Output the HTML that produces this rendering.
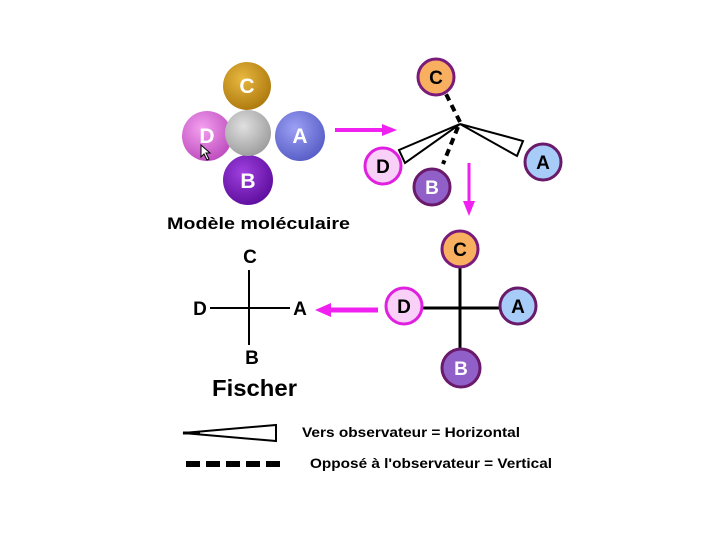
<!DOCTYPE html>
<html><head><meta charset="utf-8"><style>
html,body{margin:0;padding:0;background:#fff;}
svg{display:block;}
text{font-family:"Liberation Sans",sans-serif;font-weight:bold;}
</style></head><body>
<svg width="720" height="540" viewBox="0 0 720 540" xmlns="http://www.w3.org/2000/svg">
<defs>
<radialGradient id="gc" cx="40%" cy="35%" r="65%"><stop offset="0" stop-color="#e8b840"/><stop offset="1" stop-color="#b07c10"/></radialGradient>
<radialGradient id="gd" cx="40%" cy="35%" r="65%"><stop offset="0" stop-color="#f4a0f0"/><stop offset="1" stop-color="#c050c0"/></radialGradient>
<radialGradient id="ga" cx="40%" cy="35%" r="65%"><stop offset="0" stop-color="#9ca0f4"/><stop offset="1" stop-color="#5a60c8"/></radialGradient>
<radialGradient id="gb" cx="40%" cy="35%" r="65%"><stop offset="0" stop-color="#a040e0"/><stop offset="1" stop-color="#6010a0"/></radialGradient>
<radialGradient id="gg" cx="40%" cy="35%" r="65%"><stop offset="0" stop-color="#e0e0e0"/><stop offset="1" stop-color="#a0a0a0"/></radialGradient>
</defs>
<circle cx="247" cy="86" r="24" fill="url(#gc)"/>
<circle cx="248" cy="180" r="25" fill="url(#gb)"/>
<circle cx="207" cy="136" r="25" fill="url(#gd)"/>
<circle cx="300" cy="136" r="25" fill="url(#ga)"/>
<circle cx="248" cy="133" r="23" fill="url(#gg)"/>
<g fill="#fff" font-size="21" text-anchor="middle">
<text x="247" y="93">C</text><text x="207" y="143">D</text><text x="300" y="143">A</text><text x="248" y="188">B</text>
</g>
<path d="M201 145 l0 12 l3 -3 l3 6 l2 -1 l-3 -6 l4 0z" fill="#fff" stroke="#000" stroke-width="1"/>
<text x="167" y="229" font-size="17" textLength="183" lengthAdjust="spacingAndGlyphs">Modèle moléculaire</text>
<g fill="#f020f0" stroke="#f020f0">
<line x1="335" y1="130" x2="385" y2="130" stroke-width="4"/><polygon points="382,124 397,130 382,136" stroke="none"/>
<line x1="469" y1="163" x2="469" y2="205" stroke-width="3"/><polygon points="463,201 469,216 475,201" stroke="none"/>
<line x1="378" y1="310" x2="328" y2="310" stroke-width="5"/><polygon points="331,303 315,310 331,317" stroke="none"/>
</g>
<g stroke="#000" stroke-width="4" stroke-dasharray="7,5" fill="none">
<line x1="460" y1="122" x2="445" y2="92"/><line x1="458" y1="127" x2="443" y2="164"/>
</g>
<g stroke="#000" stroke-width="2" fill="#fff">
<polygon points="460,124 399,150 405,163"/><polygon points="460,124 523,141 517,156"/>
</g>
<g stroke-width="3" font-size="19" text-anchor="middle">
<circle cx="436" cy="77" r="18" fill="#f8b060" stroke="#7a1a7a"/><text x="436" y="84" stroke="none">C</text>
<circle cx="383" cy="166" r="18" fill="#f8d0f8" stroke="#e020e0"/><text x="383" y="173" stroke="none">D</text>
<circle cx="432" cy="187" r="18" fill="#9060c8" stroke="#6a1a6a"/><text x="432" y="194" stroke="none" fill="#fff">B</text>
<circle cx="543" cy="162" r="18" fill="#a8ccf8" stroke="#6a1a6a"/><text x="543" y="169" stroke="none">A</text>
</g>
<g stroke="#000" stroke-width="3"><line x1="460" y1="262" x2="460" y2="352"/><line x1="420" y1="308" x2="502" y2="308"/></g>
<g stroke-width="3" font-size="19" text-anchor="middle">
<circle cx="460" cy="249" r="18" fill="#f8b060" stroke="#7a1a7a"/><text x="460" y="256" stroke="none">C</text>
<circle cx="404" cy="306" r="18" fill="#f8d0f8" stroke="#e020e0"/><text x="404" y="313" stroke="none">D</text>
<circle cx="518" cy="306" r="18" fill="#a8ccf8" stroke="#6a1a6a"/><text x="518" y="313" stroke="none">A</text>
<circle cx="461" cy="368" r="19" fill="#9060c8" stroke="#6a1a6a"/><text x="461" y="375" stroke="none" fill="#fff">B</text>
</g>
<g stroke="#000" stroke-width="2"><line x1="249" y1="270" x2="249" y2="345"/><line x1="210" y1="308" x2="290" y2="308"/></g>
<g font-size="19" text-anchor="middle">
<text x="250" y="263">C</text><text x="200" y="315">D</text><text x="300" y="315">A</text><text x="252" y="364">B</text>
</g>
<text x="212" y="396" font-size="23" textLength="85" lengthAdjust="spacingAndGlyphs">Fischer</text>
<polygon points="183,433 276,425 276,441" fill="#fff" stroke="#000" stroke-width="2"/>
<line x1="183" y1="433" x2="200" y2="433" stroke="#000" stroke-width="3"/>
<text x="302" y="437" font-size="14" textLength="218" lengthAdjust="spacingAndGlyphs">Vers observateur = Horizontal</text>
<line x1="186" y1="464" x2="282" y2="464" stroke="#000" stroke-width="6" stroke-dasharray="14,6"/>
<text x="310" y="468" font-size="14" textLength="242" lengthAdjust="spacingAndGlyphs">Opposé à l'observateur = Vertical</text>
</svg>
</body></html>
